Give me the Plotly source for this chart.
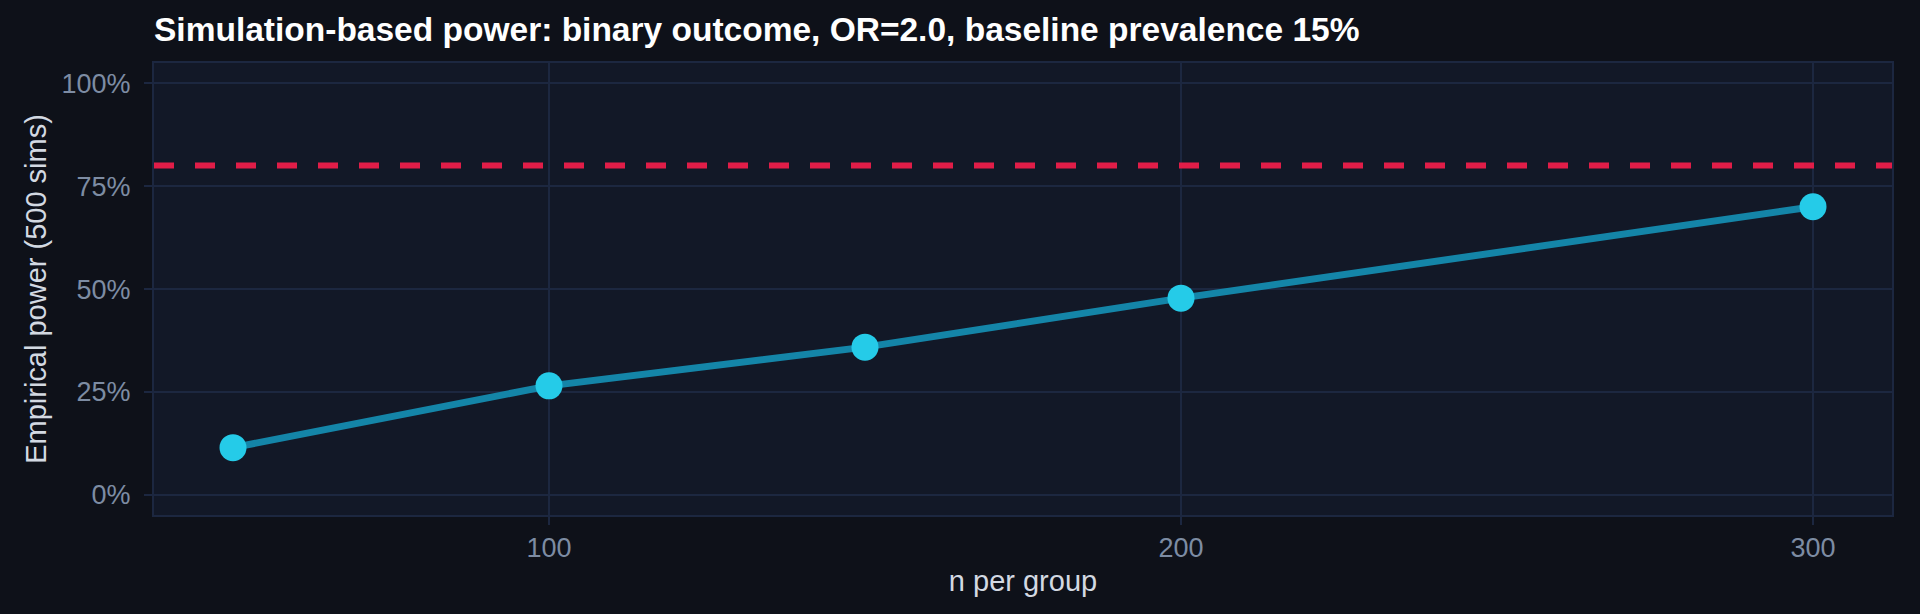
import plotly.graph_objects as go

# Values
n_per_group = [50, 100, 150, 200, 300]
power = [0.115, 0.265, 0.359, 0.478, 0.700]
target_power = 0.80
y_tick_vals = [0, 0.25, 0.5, 0.75, 1.0]
y_tick_text = ["0%", "25%", "50%", "75%", "100%"]
x_tick_vals = [100, 200, 300]

BG = "#0e1119"
PLOT_BG = "#121827"
GRID = "#1c2740"
TICK_COLOR = "#7d8ca3"
TEXT_COLOR = "#d3d9e2"
FONT = "Liberation Sans, Arial, sans-serif"

fig = go.Figure()

fig.add_trace(go.Scatter(
    x=n_per_group,
    y=power,
    mode="lines+markers",
    line=dict(color="#1485a8", width=7),
    marker=dict(color="#25cbe8", size=27),
    hoverinfo="x+y",
    showlegend=False,
))

# 80% target line
fig.add_hline(
    y=target_power,
    line=dict(color="#e11d48", width=6, dash="20px,21px"),
    layer="above",
)

fig.update_layout(
    width=1920,
    height=614,
    paper_bgcolor=BG,
    plot_bgcolor=PLOT_BG,
    font=dict(family=FONT, color=TEXT_COLOR),
    margin=dict(l=154, r=28, t=63, b=99),
    title=dict(
        text="<b>Simulation-based power: binary outcome, OR=2.0, baseline prevalence 15%</b>",
        font=dict(size=33.5, color="#ffffff", family=FONT),
        x=0, xref="paper", xanchor="left",
        y=0.953, yref="container", yanchor="middle",
    ),
    xaxis=dict(
        range=[37.5, 312.5],
        tickvals=x_tick_vals,
        tickfont=dict(size=27, color=TICK_COLOR),
        ticks="outside", ticklen=8, tickwidth=2, tickcolor=GRID,
        showgrid=True, gridcolor=GRID, gridwidth=2,
        showline=True, linecolor=GRID, linewidth=2, mirror=True,
        zeroline=False,
        title=dict(text="n per group", font=dict(size=29, color=TEXT_COLOR), standoff=8),
    ),
    yaxis=dict(
        range=[-0.0486, 1.049],
        tickvals=y_tick_vals,
        ticktext=y_tick_text,
        tickfont=dict(size=27, color=TICK_COLOR),
        ticks="outside", ticklen=8, tickwidth=2, tickcolor=GRID,
        ticklabelstandoff=8,
        showgrid=True, gridcolor=GRID, gridwidth=2,
        showline=True, linecolor=GRID, linewidth=2, mirror=True,
        zeroline=False,
        title=dict(text="Empirical power (500 sims)", font=dict(size=29, color=TEXT_COLOR), standoff=6),
    ),
)

# drop the default page margin so the figure fills the window
fig.write_html(
    "out.html",
    config={"displayModeBar": False},
    post_script="document.body.style.margin='0';document.body.style.background='%s';" % BG,
)
